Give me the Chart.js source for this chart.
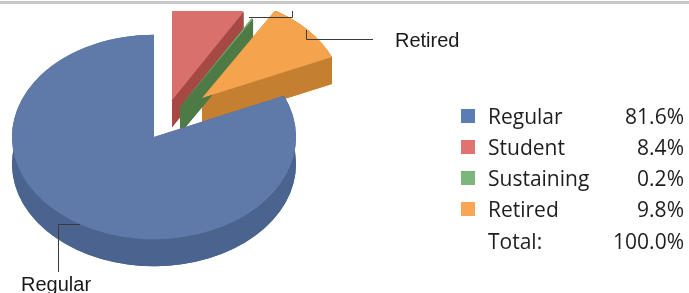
<!DOCTYPE html>
<html>
<head>
<meta charset="utf-8">
<script src="https://cdn.jsdelivr.net/npm/chart.js@4/dist/chart.umd.min.js"></script>
<style>
  body { margin: 0; background: #fff; }
  #page { position: relative; width: 689px; height: 293px; overflow: hidden; background: #fff; }
  #topline { position: absolute; left: 0; top: 1px; width: 689px; height: 3px; background: #c8c8c8; }
  #wrap { position: absolute; left: 0; top: 11px; width: 689px; height: 282px; overflow: hidden; }
  #graph1 { position: absolute; left: 0; top: -21px; }
  .callout { position: absolute; font-family: "Liberation Sans", Arial, sans-serif; font-size: 20px; line-height: 20px; color: #1a1a1a; white-space: nowrap; }
  .row { position: absolute; left: 461px; width: 223px; height: 21px; font-family: "Open Sans", Lato, sans-serif; font-size: 21px; line-height: 21px; color: #1e1e1e; white-space: nowrap; }
  .row .sw { position: absolute; left: 0; top: 3px; width: 14px; height: 14px; }
  .row .lab { position: absolute; left: 27px; top: 0; }
  .row .pct { position: absolute; right: 0; top: 0; }
</style>
</head>
<body>
<div id="page">
  <div id="topline"></div>
  <div id="wrap"><canvas id="graph1" width="689" height="303"></canvas></div>
</div>
<script>
// data
const categories = ["Regular", "Student", "Sustaining", "Retired"];
const shares = [81.6, 8.4, 0.2, 9.8];
const calloutLabels = ["Regular", "Retired"];

// colours: top face, side, legend swatch
const topColors = ["#5f7aa8", "#d9706c", "#77ad6c", "#f6a34e"];
const sideColors = ["#4b648f", "#a64945", "#4d7a45", "#c57f31"];
const swatchColors = ["#5b7cb4", "#e0736f", "#7db67a", "#f8a556"];

// 3d look
const tilt = 0.72;
const depth = 27;
// explode offsets (flat pie px) for each slice
const explodeX = [0, 18, 26, 48];
const explodeY = [0, -51, -42, -54];
const canvasTop = -10; // canvas top in page coords

let total = shares.reduce((a, b) => a + b, 0);

// side of one slice: bottom face, both cut walls and the outer wall
function drawSide(ctx, el, D) {
    let p = el.getProps(["x", "y", "startAngle", "endAngle", "outerRadius"]);
    let r = p.outerRadius;
    let sx = p.x + r * Math.cos(p.startAngle), sy = p.y + r * Math.sin(p.startAngle);
    let ex = p.x + r * Math.cos(p.endAngle), ey = p.y + r * Math.sin(p.endAngle);

    ctx.beginPath();
    ctx.moveTo(p.x, p.y + D);
    ctx.arc(p.x, p.y + D, r, p.startAngle, p.endAngle);
    ctx.closePath();
    ctx.fill();

    [[sx, sy], [ex, ey]].forEach(q => {
        ctx.beginPath();
        ctx.moveTo(p.x, p.y);
        ctx.lineTo(q[0], q[1]);
        ctx.lineTo(q[0], q[1] + D);
        ctx.lineTo(p.x, p.y + D);
        ctx.closePath();
        ctx.fill();
    });

    ctx.beginPath();
    ctx.arc(p.x, p.y, r, p.startAngle, p.endAngle);
    ctx.lineTo(ex, ey + D);
    ctx.arc(p.x, p.y + D, r, p.endAngle, p.startAngle, true);
    ctx.closePath();
    ctx.fill();
}

const pie3d = {
    id: "pie3d",
    beforeDatasetDraw(chart, args) {
        const ctx = chart.ctx;
        const els = args.meta.data;
        const cy = els[0].y;
        // back slices first
        let order = els.map((el, i) => i).sort((a, b) => explodeY[a] - explodeY[b]);

        ctx.save();
        ctx.translate(0, cy);
        ctx.scale(1, tilt);
        ctx.translate(0, -cy);

        order.forEach(i => {
            ctx.save();
            ctx.translate(explodeX[i], explodeY[i]);
            ctx.fillStyle = sideColors[i];
            drawSide(ctx, els[i], depth / tilt);
            ctx.restore();
        });
        order.forEach(i => {
            ctx.save();
            ctx.translate(explodeX[i], explodeY[i]);
            els[i].draw(ctx);
            ctx.restore();
        });
        ctx.restore();
        return false;
    },
    afterDraw(chart) {
        const ctx = chart.ctx;
        const off = -canvasTop;
        ctx.save();
        ctx.strokeStyle = "#3a3a3a";
        ctx.lineWidth = 1;
        let lines = [
            [[80, 224.5], [58.5, 224.5], [58.5, 272]],
            [[306.5, 30], [306.5, 39.5], [373, 39.5]],
            [[249, 17.5], [292.5, 17.5], [292.5, 0]]
        ];
        lines.forEach(l => {
            ctx.beginPath();
            ctx.moveTo(l[0][0], l[0][1] + off);
            for (let k = 1; k < l.length; k++) ctx.lineTo(l[k][0], l[k][1] + off);
            ctx.stroke();
        });
        ctx.restore();
    }
};

const ctx = document.getElementById("graph1").getContext("2d");
const myChart = new Chart(ctx, {
    type: "pie",
    data: {
        labels: categories,
        datasets: [{
            data: shares,
            backgroundColor: topColors,
            borderWidth: 0,
            clip: false
        }]
    },
    options: {
        responsive: false,
        animation: false,
        rotation: 360 - 360 * shares[0] / total,
        layout: { padding: { left: 12, right: 393, top: 5, bottom: 14 } },
        plugins: {
            legend: { display: false },
            tooltip: { enabled: false }
        },
        events: []
    },
    plugins: [pie3d]
});

// callout labels
const page = document.getElementById("page");
let calloutPos = [[21, 274], [395, 30]];
calloutLabels.forEach((t, i) => {
    let d = document.createElement("div");
    d.className = "callout";
    d.innerText = t;
    d.style.left = calloutPos[i][0] + "px";
    d.style.top = calloutPos[i][1] + "px";
    page.appendChild(d);
});

// legend table
let baselines = [122, 153, 184, 215, 247];
categories.forEach((c, i) => {
    let row = document.createElement("div");
    row.className = "row";
    row.style.top = (baselines[i] - 16) + "px";
    let sw = document.createElement("div");
    sw.className = "sw";
    sw.style.background = swatchColors[i];
    let lab = document.createElement("div");
    lab.className = "lab";
    lab.innerText = c;
    let pct = document.createElement("div");
    pct.className = "pct";
    pct.innerText = shares[i].toFixed(1) + "%";
    row.appendChild(sw);
    row.appendChild(lab);
    row.appendChild(pct);
    page.appendChild(row);
});
let totalRow = document.createElement("div");
totalRow.className = "row";
totalRow.style.top = (baselines[4] - 16) + "px";
totalRow.innerHTML = '<div class="lab">Total:</div><div class="pct">' + total.toFixed(1) + '%</div>';
page.appendChild(totalRow);
</script>
</body>
</html>
